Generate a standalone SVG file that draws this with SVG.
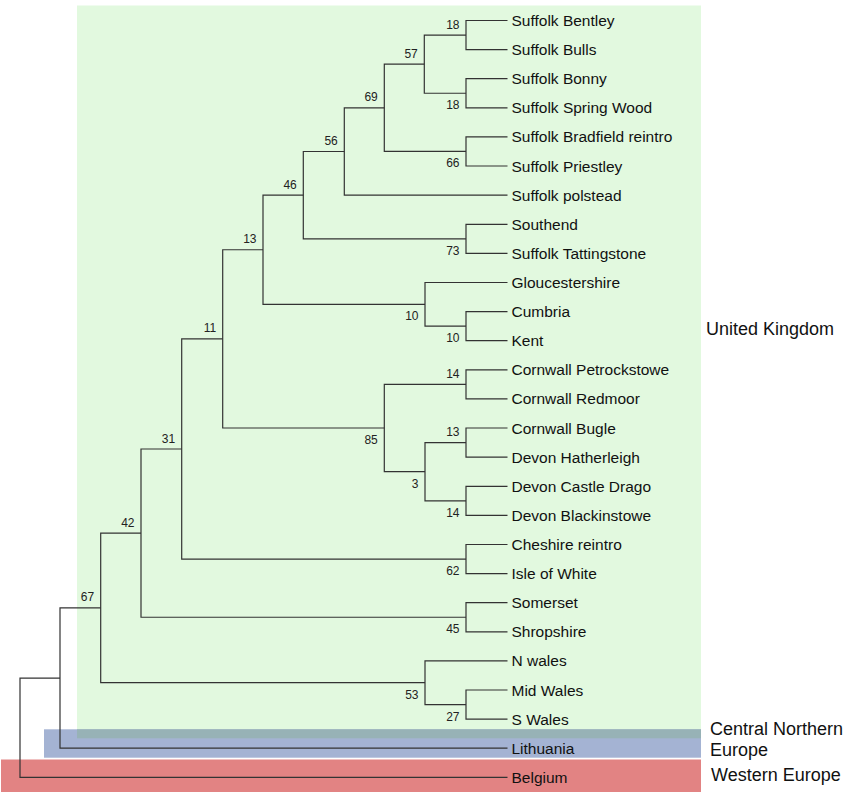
<svg xmlns="http://www.w3.org/2000/svg" width="851" height="796" viewBox="0 0 851 796">
<style>
.leaf{font-family:"Liberation Sans",Arial,sans-serif;font-size:15.5px;fill:#111}
.bs{font-family:"Liberation Sans",Arial,sans-serif;font-size:12px;fill:#222;text-anchor:end}
.reg{font-family:"Liberation Sans",Arial,sans-serif;font-size:18px;fill:#111}
.br{fill:none;stroke:#333;stroke-width:1.2}
</style>
<rect width="851" height="796" fill="#fff"/>
<g id="regions">
<rect id="uk-box" x="77" y="5.5" width="624" height="724" fill="#E2F9DF"/>
<rect id="cne-box" x="44" y="729.3" width="657" height="28.4" fill="#A4B3D3"/>
<rect id="overlap" x="77" y="729.3" width="624" height="9" fill="#97B2B6"/>
<rect id="we-box" x="1" y="759.5" width="700" height="32.5" fill="#E28383"/>
</g>
<g id="connectors" class="br">
<path d="M507.5,20.5 H466 V49.6 H507.5"/>
<path d="M507.5,78.7 H466 V107.8 H507.5"/>
<path d="M466,35.05 H424.3 V93.25 H466"/>
<path d="M507.5,136.9 H466 V166 H507.5"/>
<path d="M424.3,64.15 H384.3 V151.45 H466"/>
<path d="M384.3,107.8 H344.3 V195.2 H507.5"/>
<path d="M507.5,224.3 H466 V253.4 H507.5"/>
<path d="M344.3,151.5 H303.3 V238.85 H466"/>
<path d="M507.5,311.6 H466 V340.7 H507.5"/>
<path d="M507.5,282.5 H425 V326.15 H466"/>
<path d="M303.3,195.2 H263 V304.3 H425"/>
<path d="M507.5,369.8 H466 V398.9 H507.5"/>
<path d="M507.5,428 H466 V457.1 H507.5"/>
<path d="M507.5,486.3 H466 V515.4 H507.5"/>
<path d="M466,442.55 H425 V500.85 H466"/>
<path d="M466,384.35 H384.3 V471.7 H425"/>
<path d="M263,249.75 H222.7 V428 H384.3"/>
<path d="M507.5,544.5 H466 V573.6 H507.5"/>
<path d="M222.7,338.9 H181.7 V559.05 H466"/>
<path d="M507.5,602.7 H466 V631.8 H507.5"/>
<path d="M181.7,449 H141 V617.25 H466"/>
<path d="M507.5,690 H466 V719.1 H507.5"/>
<path d="M507.5,660.9 H425 V704.55 H466"/>
<path d="M141,533.1 H100.7 V682.7 H425"/>
<path d="M100.7,607.9 H60 V748.2 H507.5"/>
<path d="M60,678.05 H20 V777.3 H507.5"/>
</g>
<g id="leaves" class="leaf">
<g id="leaf-suffolk-bentley"><text x="511.5" y="26">Suffolk Bentley</text></g>
<g id="leaf-suffolk-bulls"><text x="511.5" y="55.1">Suffolk Bulls</text></g>
<g id="leaf-suffolk-bonny"><text x="511.5" y="84.2">Suffolk Bonny</text></g>
<g id="leaf-suffolk-spring-wood"><text x="511.5" y="113.3">Suffolk Spring Wood</text></g>
<g id="leaf-suffolk-bradfield"><text x="511.5" y="142.4">Suffolk Bradfield reintro</text></g>
<g id="leaf-suffolk-priestley"><text x="511.5" y="171.5">Suffolk Priestley</text></g>
<g id="leaf-suffolk-polstead"><text x="511.5" y="200.7">Suffolk polstead</text></g>
<g id="leaf-southend"><text x="511.5" y="229.8">Southend</text></g>
<g id="leaf-suffolk-tattingstone"><text x="511.5" y="258.9">Suffolk Tattingstone</text></g>
<g id="leaf-gloucestershire"><text x="511.5" y="288">Gloucestershire</text></g>
<g id="leaf-cumbria"><text x="511.5" y="317.1">Cumbria</text></g>
<g id="leaf-kent"><text x="511.5" y="346.2">Kent</text></g>
<g id="leaf-cornwall-petrockstowe"><text x="511.5" y="375.3">Cornwall Petrockstowe</text></g>
<g id="leaf-cornwall-redmoor"><text x="511.5" y="404.4">Cornwall Redmoor</text></g>
<g id="leaf-cornwall-bugle"><text x="511.5" y="433.5">Cornwall Bugle</text></g>
<g id="leaf-devon-hatherleigh"><text x="511.5" y="462.6">Devon Hatherleigh</text></g>
<g id="leaf-devon-castle-drago"><text x="511.5" y="491.8">Devon Castle Drago</text></g>
<g id="leaf-devon-blackinstowe"><text x="511.5" y="520.9">Devon Blackinstowe</text></g>
<g id="leaf-cheshire"><text x="511.5" y="550">Cheshire reintro</text></g>
<g id="leaf-isle-of-white"><text x="511.5" y="579.1">Isle of White</text></g>
<g id="leaf-somerset"><text x="511.5" y="608.2">Somerset</text></g>
<g id="leaf-shropshire"><text x="511.5" y="637.3">Shropshire</text></g>
<g id="leaf-n-wales"><text x="511.5" y="666.4">N wales</text></g>
<g id="leaf-mid-wales"><text x="511.5" y="695.5">Mid Wales</text></g>
<g id="leaf-s-wales"><text x="511.5" y="724.6">S Wales</text></g>
<g id="leaf-lithuania"><text x="511.5" y="753.7">Lithuania</text></g>
<g id="leaf-belgium"><text x="511.5" y="782.8">Belgium</text></g>
</g>
<g id="bootstrap" class="bs">
<g id="bs-n18a"><text x="459.5" y="28.5">18</text></g>
<g id="bs-n18b"><text x="459.5" y="109.25">18</text></g>
<g id="bs-n57"><text x="417.8" y="57.65">57</text></g>
<g id="bs-n66"><text x="459.5" y="167.45">66</text></g>
<g id="bs-n69"><text x="377.8" y="101.3">69</text></g>
<g id="bs-n56"><text x="337.8" y="145">56</text></g>
<g id="bs-n73"><text x="459.5" y="254.85">73</text></g>
<g id="bs-n46"><text x="296.8" y="188.7">46</text></g>
<g id="bs-n10b"><text x="459.5" y="342.15">10</text></g>
<g id="bs-n10a"><text x="418.5" y="320.3">10</text></g>
<g id="bs-n13"><text x="256.5" y="243.25">13</text></g>
<g id="bs-n14a"><text x="459.5" y="377.85">14</text></g>
<g id="bs-n13b"><text x="459.5" y="436.05">13</text></g>
<g id="bs-n14b"><text x="459.5" y="516.85">14</text></g>
<g id="bs-n3"><text x="418.5" y="487.7">3</text></g>
<g id="bs-n85"><text x="377.8" y="444">85</text></g>
<g id="bs-n11"><text x="216.2" y="332.4">11</text></g>
<g id="bs-n62"><text x="459.5" y="575.05">62</text></g>
<g id="bs-n31"><text x="175.2" y="442.5">31</text></g>
<g id="bs-n45"><text x="459.5" y="633.25">45</text></g>
<g id="bs-n42"><text x="134.5" y="526.6">42</text></g>
<g id="bs-n27"><text x="459.5" y="720.55">27</text></g>
<g id="bs-n53"><text x="418.5" y="698.7">53</text></g>
<g id="bs-n67"><text x="94.2" y="601.4">67</text></g>
</g>
<g id="region-labels" class="reg">
<g id="label-uk"><text x="706" y="335">United Kingdom</text></g>
<g id="label-cne"><text x="710" y="735">Central Northern</text><text x="710" y="756">Europe</text></g>
<g id="label-we"><text x="711" y="781">Western Europe</text></g>
</g>
</svg>
